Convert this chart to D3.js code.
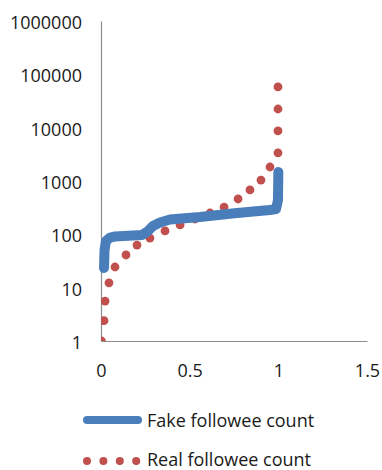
<!DOCTYPE html>
<html>
<head>
<meta charset="utf-8">
<script src="https://cdn.jsdelivr.net/npm/d3@7"></script>
<style>
  html, body { margin: 0; padding: 0; background: #fff; }
  svg { display: block; }
  text { font-family: "Open Sans", sans-serif; fill: #1a1a1a; }
</style>
</head>
<body>
<svg id="chart" width="382" height="470"></svg>
<script>
// Fraction of accounts (sorted) vs. followee count, log scale
const fakeX = [0.017, 0.020, 0.028, 0.051, 0.079, 0.231, 0.265, 0.293, 0.333, 0.389, 0.558, 0.767, 0.953, 0.987, 0.998, 1.0];
const fakeY = [23.4, 50.8, 75, 87, 91, 97, 115, 143, 167, 190, 211, 251, 286, 299, 440, 1475];

const realX = [0.003, 0.017, 0.023, 0.045, 0.079, 0.141, 0.203, 0.276, 0.361, 0.446, 0.530, 0.615, 0.694, 0.773, 0.840, 0.902, 0.953, 0.998, 0.998, 0.998, 0.998];
const realY = [1, 2.4, 5.6, 12.3, 24.4, 41, 63, 85, 116, 150, 194, 251, 325, 460, 680, 1040, 1830, 3370, 8700, 22400, 58000];

const xTicks = [0, 0.5, 1, 1.5];
const xTickLabels = ["0", "0.5", "1", "1.5"];
const yTicks = [1, 10, 100, 1000, 10000, 100000, 1000000];
const yTickLabels = ["1", "10", "100", "1000", "10000", "100000", "1000000"];

const seriesNames = ["Fake followee count", "Real followee count"];
const colors = ["#4a7ebb", "#c0504d"];

const svg = d3.select("#chart");
const plotLeft = 101, plotRight = 367, plotTop = 21, plotBottom = 341;

const x = d3.scaleLinear().domain([0, 1.5]).range([plotLeft, plotRight]);
const y = d3.scaleLog().domain([1, 1000000]).range([plotBottom, plotTop]);

svg.append("defs").append("clipPath").attr("id", "plot")
  .append("rect")
  .attr("x", plotLeft).attr("y", plotTop)
  .attr("width", plotRight - plotLeft).attr("height", plotBottom - plotTop);

// Axes
const yAxis = svg.append("g")
  .attr("transform", `translate(${plotLeft},0)`)
  .call(d3.axisLeft(y).tickValues(yTicks).tickFormat((d, i) => yTickLabels[i]).tickSize(0).tickPadding(19));
yAxis.select(".domain").attr("stroke", "#8c8c8c").attr("stroke-width", 1.2);
yAxis.selectAll("text").attr("font-size", 18).attr("dy", "0.42em").style("font-family", "Open Sans").attr("fill", "#1a1a1a");

const xAxis = svg.append("g")
  .attr("transform", `translate(0,${plotBottom})`)
  .call(d3.axisBottom(x).tickValues(xTicks).tickFormat((d, i) => xTickLabels[i]).tickSize(0).tickPadding(23));
xAxis.select(".domain").attr("stroke", "#8c8c8c").attr("stroke-width", 1.2);
xAxis.selectAll("text").attr("font-size", 18).attr("dy", "0.71em").style("font-family", "Open Sans").attr("fill", "#1a1a1a");

// Series
const plot = svg.append("g").attr("clip-path", "url(#plot)");

const line = d3.line().x(d => x(d[0])).y(d => y(d[1]));
const fakePts = fakeX.map((v, i) => [v, fakeY[i]]);
svg.append("path")
  .datum(fakePts)
  .attr("d", line)
  .attr("fill", "none")
  .attr("stroke", colors[0])
  .attr("stroke-width", 10)
  .attr("stroke-linecap", "round")
  .attr("stroke-linejoin", "round");

plot.selectAll("circle.real")
  .data(realX.map((v, i) => [v, realY[i]]))
  .join("circle")
  .attr("class", "real")
  .attr("cx", d => x(d[0]))
  .attr("cy", d => y(d[1]))
  .attr("r", 4.4)
  .attr("fill", colors[1]);

// Legend
const legend = svg.append("g");
legend.append("line")
  .attr("x1", 87).attr("x2", 138).attr("y1", 420).attr("y2", 420)
  .attr("stroke", colors[0]).attr("stroke-width", 8).attr("stroke-linecap", "round");
legend.append("text").attr("x", 147).attr("y", 427).attr("font-size", 18).text(seriesNames[0]);

legend.selectAll("circle")
  .data([0, 1, 2, 3])
  .join("circle")
  .attr("cx", d => 87 + d * 16.4)
  .attr("cy", 461)
  .attr("r", 4)
  .attr("fill", colors[1]);
legend.append("text").attr("x", 147).attr("y", 466).attr("font-size", 18).text(seriesNames[1]);
</script>
</body>
</html>
